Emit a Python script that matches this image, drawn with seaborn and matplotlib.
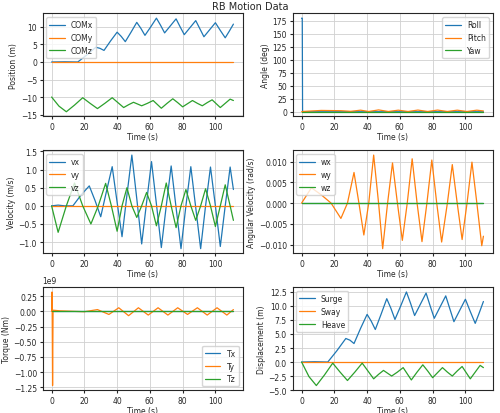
import numpy as np
import pandas as pd
import seaborn as sns
import matplotlib
matplotlib.use("Agg")
import matplotlib.pyplot as plt
from matplotlib.ticker import MultipleLocator

# Werte (Extrema und Zwischenpunkte)
t_x = [0, 8, 16, 21.5, 27, 29.5, 32, 36, 40, 42.5, 45, 48.5, 52, 54.5, 57, 60.5, 64, 66.5, 69,
       72.5, 76, 78.5, 81, 84.5, 88, 90.5, 93, 96.5, 100, 103, 106, 108.5, 111]
com_x = [0, 0.05, 0, 2, 4.2, 3.9, 3.3, 6, 8.5, 7.3, 5.8, 8.5, 11.3, 9.6, 7.6, 10, 12.5, 10.5, 8.3,
         10.3, 12.3, 10, 7.8, 9.8, 11.8, 9.5, 7.2, 9.2, 11.2, 9, 6.9, 8.8, 10.8]
t_z = [0, 4.5, 9, 14, 19, 23.5, 28, 32.5, 37, 40.5, 44, 47, 50, 52.5, 55, 58.5, 62, 64.5, 67,
       70.5, 74, 77, 80, 83, 86, 89, 92, 95, 98, 100.5, 103, 106, 109, 111]
com_z = [-10, -12.6, -14.2, -12.3, -10.2, -11.8, -13.3, -11.8, -10.2, -11.6, -13, -12.2, -11.5, -12, -12.5,
         -11.8, -11, -12.1, -13.2, -11.8, -10.5, -11.6, -12.8, -11.9, -11, -11.8, -12.5, -11.6, -10.8, -11.9,
         -13, -11.8, -10.6, -11]

t_v = [0, 4, 8, 13, 18, 23, 26.5, 30, 33.5, 37, 40, 43, 46, 49, 52, 55, 58, 61, 64, 67, 70, 73,
       76, 79, 82, 85, 88, 91, 94, 97, 100, 103, 106, 109, 111]
vx = [0, 0.02, 0, 0, 0.3, 0.55, 0.15, -0.3, 0.4, 1.08, 0.1, -0.85, 0.3, 1.4, 0.2, -1.05, 0.1, 1.22, 0.05,
      -1.15, 0, 1.1, -0.05, -1.18, 0, 1.08, -0.05, -1.18, 0, 1.07, 0, -1.12, 0, 1.07, 0.45]
t_vz = [0, 4, 9, 14, 19, 24, 28.5, 33, 36.5, 40, 43, 46, 49, 52, 55, 58, 61, 64, 67, 70, 73, 76,
        79, 82, 85, 88, 91, 94, 97, 100, 103, 106, 109, 111]
vz = [0, -0.73, 0, 0.63, 0, -0.5, 0, 0.62, 0, -0.7, 0, 0.5, 0, -0.32, 0, 0.37, 0, -0.55, 0, 0.63, 0,
      -0.6, 0, 0.45, 0, -0.4, 0, 0.47, 0, -0.57, 0, 0.58, 0, -0.4]

t_w = [0, 6, 12, 18, 24, 28, 32, 35, 38, 41, 44, 47, 49.5, 52.5, 55.5, 58.5, 61.5, 64.5, 67.5, 70.5,
       73.5, 76.5, 79.5, 82.5, 85.5, 89, 92, 95, 98, 101, 104, 107, 110, 111]
wy = [0, 0.0037, 0.002, 0, -0.0037, 0, 0.0074, 0, -0.0077, 0, 0.0116, 0, -0.011, 0, 0.0097, 0, -0.009, 0,
      0.0107, 0, -0.0093, 0, 0.0104, 0, -0.0094, 0, 0.0093, 0, -0.0088, 0, 0.0099, 0, -0.0103, -0.008]

t_ang = [0, 0.4, 0.6, 12, 24, 30, 36, 41, 47, 53, 59, 65, 71, 77, 83, 89, 95, 101, 107, 111]
roll = [180, 180, 0, 0, 0, 0, 0, 0, 0, 0, 0, 0, 0, 0, 0, 0, 0, 0, 0, 0]
pitch = [0, 0, 0.5, 2.5, 2, 0.8, 3, 0.5, 3.5, 0.5, 3, 0.5, 3.2, 0.5, 3.2, 0.5, 3, 0.5, 3, 1.5]

t_tq = [0, 0.3, 0.6, 0.9, 5, 20, 28, 35, 41, 47, 53, 59, 65, 71, 77, 83, 89, 95, 101, 107, 111]
ty = [0, 0.32, -1.22, 0.02, 0.01, -0.005, 0.03, -0.05, 0.06, -0.07, 0.06, -0.06, 0.06, -0.06,
      0.06, -0.05, 0.06, -0.06, 0.06, -0.06, 0.03]

sns.set_style("ticks")
fig, axes = plt.subplots(3, 2, figsize=(5.0, 4.14), dpi=100)
fig.suptitle("RB Motion Data", fontsize=7, y=0.995)

def draw(ax, series, ylabel, loc, step):
    for (t, y, name) in series:
        sns.lineplot(x=t, y=y, ax=ax, label=name, linewidth=0.9)
    ax.set_xlabel("Time (s)", fontsize=5.5, labelpad=1)
    ax.set_ylabel(ylabel, fontsize=5.5, labelpad=2)
    ax.tick_params(labelsize=5.5, length=2, pad=2)
    ax.grid(True, linewidth=0.6, color="#d0d0d0")
    ax.legend(loc=loc, fontsize=5.5)
    ax.set_xticks([0, 20, 40, 60, 80, 100])
    ax.yaxis.set_major_locator(MultipleLocator(step))

zero = lambda t: [0] * len(t)
draw(axes[0, 0], [(t_x, com_x, "COMx"), (t_x, zero(t_x), "COMy"), (t_z, com_z, "COMz")],
     "Position (m)", "upper left", 5)
draw(axes[0, 1], [(t_ang, roll, "Roll"), (t_ang, pitch, "Pitch"), (t_ang, zero(t_ang), "Yaw")],
     "Angle (deg)", "upper right", 25)
draw(axes[1, 0], [(t_v, vx, "vx"), (t_v, zero(t_v), "vy"), (t_vz, vz, "vz")],
     "Velocity (m/s)", "upper left", 0.5)
draw(axes[1, 1], [(t_w, zero(t_w), "wx"), (t_w, wy, "wy"), (t_w, zero(t_w), "wz")],
     "Angular Velocity (rad/s)", "upper left", 0.005)
draw(axes[2, 0], [(t_tq, zero(t_tq), "Tx"), (t_tq, np.array(ty) * 1e9, "Ty"), (t_tq, zero(t_tq), "Tz")],
     "Torque (Nm)", "lower right", 0.25e9)
draw(axes[2, 1], [(t_x, com_x, "Surge"), (t_x, zero(t_x), "Sway"), (t_z, np.array(com_z) + 10, "Heave")],
     "Displacement (m)", "upper left", 2.5)
axes[2, 0].yaxis.get_offset_text().set_fontsize(5.5)

fig.subplots_adjust(left=0.085, right=0.985, top=0.965, bottom=0.055, hspace=0.33, wspace=0.25)
fig.savefig("out.png")
